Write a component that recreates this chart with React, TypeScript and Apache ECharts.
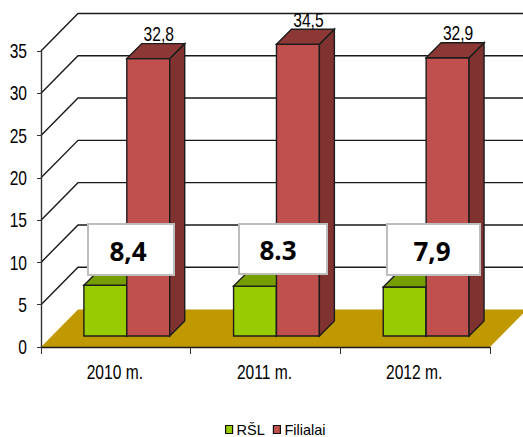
import React, { useEffect, useRef } from "react";
import * as echarts from "echarts";

const categories = ["2010 m.", "2011 m.", "2012 m."];
const rslValues = [6.0, 5.9, 5.8];
const filialaiValues = [32.8, 34.5, 32.9];
const filialaiLabels = ["32,8", "34,5", "32,9"];
const yTicks = [0, 5, 10, 15, 20, 25, 30, 35];
const noteTexts = ["8,4", "8.3", "7,9"];
const noteBoxes = [
  [88, 224, 86, 51],
  [239, 224, 88, 50],
  [387, 224, 93, 51],
];
const noteCenters = [128, 278, 432];

const FONT = "'Liberation Sans', Arial, sans-serif";
const NARROW = 0.78;
const DX = 37;
const DY = -37.5;
const FLOOR = "#C09800";
const STROKE = "#1c1c1c";

function narrowText(text: string, x: number, y: number, align = "center") {
  return {
    type: "text",
    x,
    y,
    scaleX: NARROW,
    style: { text, fill: "#000", font: `20px ${FONT}`, align, verticalAlign: "middle" },
  };
}

function makeBar(leftFrac: number, widthFrac: number, front: string, side: string, top: string, labels?: string[]) {
  return (params: any, api: any) => {
    const idx = api.value(0);
    const val = api.value(1);
    const cw = api.size([1, 0])[0];
    const c = api.coord([idx, val]);
    const b = api.coord([idx, 0]);
    const x0 = c[0] + leftFrac * cw;
    const x1 = x0 + widthFrac * cw;
    const shiftY = -11;
    const yT = c[1] + shiftY;
    const yB = b[1] + shiftY;
    const d = 15;
    const style = (fill: string) => ({ fill, stroke: STROKE, lineWidth: 1.4 });
    const children: any[] = [
      { type: "polygon", shape: { points: [[x0, yB], [x1, yB], [x1, yT], [x0, yT]] }, style: style(front) },
      { type: "polygon", shape: { points: [[x1, yB], [x1 + d, yB - d], [x1 + d, yT - d], [x1, yT]] }, style: style(side) },
      { type: "polygon", shape: { points: [[x0, yT], [x1, yT], [x1 + d, yT - d], [x0 + d, yT - d]] }, style: style(top) },
    ];
    if (labels) {
      children.push(narrowText(labels[idx], x0 + (widthFrac * cw) / 2 + 10.5, yT - 24));
    }
    return { type: "group", children };
  };
}

function renderWall(params: any, api: any) {
  const sys = params.coordSys;
  const v = api.value(0);
  const y = api.coord([0, v])[1];
  const left = sys.x;
  const right = sys.x + sys.width;
  const label = narrowText(String(v), left - 14, y + 0.5, "right");
  if (v === 0) {
    return {
      type: "group",
      children: [
        {
          type: "polygon",
          shape: { points: [[left, y], [right, y], [right + DX, y + DY], [left + DX, y + DY]] },
          style: { fill: FLOOR, lineWidth: 0 },
        },
        label,
      ],
    };
  }
  return {
    type: "group",
    children: [
      {
        type: "polyline",
        shape: { points: [[left, y], [left + DX, y + DY], [right + DX, y + DY]] },
        style: { fill: "none", stroke: "#1a1a1a", lineWidth: 1.4 },
      },
      label,
    ],
  };
}

function renderCategory(params: any, api: any) {
  const idx = api.value(0);
  const sys = params.coordSys;
  const x = api.coord([idx, 0])[0];
  return narrowText(categories[idx], x - 1, sys.y + sys.height + 25);
}

const noteElements = noteTexts.map((text, i) => {
  const [x, y, w, h] = noteBoxes[i];
  return {
    type: "group",
    z: 100,
    children: [
      { type: "rect", z: 100, shape: { x, y, width: w, height: h }, style: { fill: "#fff", stroke: "#BDBDBD", lineWidth: 2 } },
      {
        type: "text",
        z: 101,
        x: noteCenters[i],
        y: y + h / 2 + 1,
        style: { text, fill: "#000", font: "bold 26px 'Open Sans', sans-serif", align: "center", verticalAlign: "middle" },
      },
    ],
  };
});

export default function App() {
  const ref = useRef<HTMLDivElement>(null);
  useEffect(() => {
    const chart = echarts.init(ref.current!, null, { renderer: "svg" });
    chart.setOption({
      animation: false,
      backgroundColor: "#fff",
      grid: { left: 41, right: 33, top: 51, bottom: 90 },
      legend: {
        data: [
          { name: "RŠL", itemStyle: { color: "#99CC00", borderColor: "#111", borderWidth: 1.2 } },
          { name: "Filialai", itemStyle: { color: "#C0504D", borderColor: "#111", borderWidth: 1.2 } },
        ],
        left: 225,
        top: 422,
        padding: 0,
        itemWidth: 7,
        itemHeight: 8,
        itemGap: 8,
        icon: "rect",
        textStyle: { fontFamily: FONT, fontSize: 14.5, color: "#000", padding: [0, 0, 0, -1] },
      },
      xAxis: {
        type: "category",
        data: categories,
        z: 10,
        axisLine: { lineStyle: { color: "#1a1a1a", width: 1.4 } },
        axisTick: { show: true, alignWithLabel: false, length: 7, lineStyle: { color: "#333", width: 1 } },
        axisLabel: { show: false },
        splitLine: { show: false },
      },
      yAxis: {
        type: "value",
        min: 0,
        max: 35,
        interval: 5,
        z: 10,
        axisLine: { show: true, lineStyle: { color: "#333", width: 1.4 } },
        axisTick: { show: true, length: 4, lineStyle: { color: "#333", width: 1 } },
        axisLabel: { show: false },
        splitLine: { show: false },
      },
      series: [
        {
          type: "custom",
          name: "wall",
          data: yTicks.map((v) => [v]),
          renderItem: renderWall,
          clip: false,
          silent: true,
          z: 1,
          encode: { y: 0 },
        },
        {
          type: "custom",
          name: "labels",
          data: categories.map((_, i) => [i]),
          renderItem: renderCategory,
          clip: false,
          silent: true,
          z: 1,
          encode: { x: 0 },
        },
        {
          type: "custom",
          name: "RŠL",
          data: rslValues.map((v, i) => [i, v]),
          renderItem: makeBar(-0.2133, 0.2867, "#99CC00", "#769E00", "#769E00"),
          encode: { x: 0, y: 1 },
          clip: false,
          itemStyle: { color: "#99CC00" },
          z: 2,
        },
        {
          type: "custom",
          name: "Filialai",
          data: filialaiValues.map((v, i) => [i, v]),
          renderItem: makeBar(0.0733, 0.2867, "#C0504D", "#7F3230", "#8C3836", filialaiLabels),
          encode: { x: 0, y: 1 },
          clip: false,
          itemStyle: { color: "#C0504D" },
          z: 3,
        },
      ],
      graphic: { elements: noteElements },
    });
    return () => chart.dispose();
  }, []);
  return <div ref={ref} style={{ position: "absolute", left: 0, top: 0, width: 523, height: 437 }} />;
}
